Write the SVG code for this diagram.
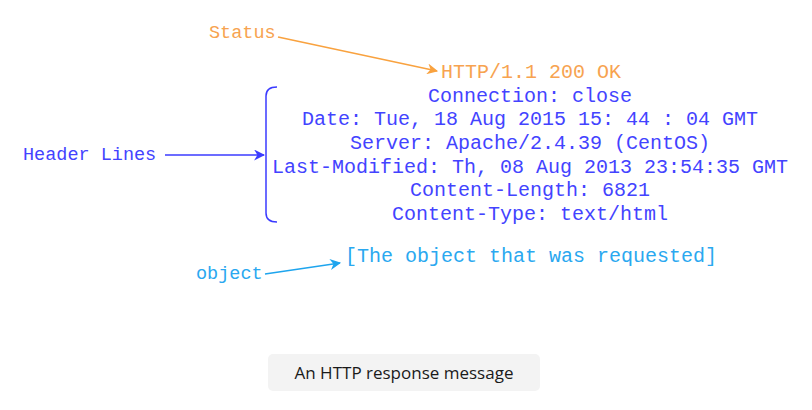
<svg xmlns="http://www.w3.org/2000/svg" width="812" height="410" viewBox="0 0 812 410">
<style>
.m{font-family:"Liberation Mono","Courier New",monospace}
.c{font-size:20px;text-anchor:middle}
.l{font-size:18.5px}
.o{fill:#f7a350}
.b{fill:#4343ff}
.s{fill:#2aa8f0}
</style>
<defs>
<marker id="ao" viewBox="0 0 10 10" refX="9" refY="5" markerWidth="11" markerHeight="11" markerUnits="userSpaceOnUse" orient="auto"><path d="M0,0L10,5L0,10L3,5z" fill="#f9a23f"/></marker>
<marker id="ab" viewBox="0 0 10 10" refX="9" refY="5" markerWidth="11" markerHeight="11" markerUnits="userSpaceOnUse" orient="auto"><path d="M0,0L10,5L0,10L3,5z" fill="#3b3bff"/></marker>
<marker id="as" viewBox="0 0 10 10" refX="9" refY="5" markerWidth="11" markerHeight="11" markerUnits="userSpaceOnUse" orient="auto"><path d="M0,0L10,5L0,10L3,5z" fill="#1ea5ee"/></marker>
</defs>
<rect width="812" height="410" fill="#fff"/>
<g id="connectors" fill="none" stroke-width="1.5">
<path d="M278,37 L437,71" stroke="#f9a23f" marker-end="url(#ao)"/>
<path d="M165,155 L264,155" stroke="#3b3bff" marker-end="url(#ab)"/>
<path d="M265,274 L340,263" stroke="#1ea5ee" marker-end="url(#as)"/>
</g>
<g id="status-label"><text class="m l o" x="209" y="38">Status</text></g>
<g id="status-line"><text class="m c o" x="531" y="78">HTTP/1.1 200 OK</text></g>
<g id="header-label"><text class="m l b" x="23" y="160">Header Lines</text></g>
<g id="headers">
<path d="M277,87 Q266,87 266,96 L266,213 Q266,222 277,222" fill="none" stroke="#3b3bff" stroke-width="1.5"/>
<text class="m c b" x="530" y="102">Connection: close</text>
<text class="m c b" x="530" y="125">Date: Tue, 18 Aug 2015 15: 44 : 04 GMT</text>
<text class="m c b" x="530" y="149">Server: Apache/2.4.39 (CentOS)</text>
<text class="m c b" x="530" y="173">Last-Modified: Th, 08 Aug 2013 23:54:35 GMT</text>
<text class="m c b" x="530" y="196">Content-Length: 6821</text>
<text class="m c b" x="530" y="220">Content-Type: text/html</text>
</g>
<g id="object-label"><text class="m l s" x="196" y="279">object</text></g>
<g id="object-body"><text class="m c s" x="531" y="262">[The object that was requested]</text></g>
<g id="caption">
<rect x="268" y="354" width="272" height="37" rx="5" fill="#f3f3f3"/>
<text x="404" y="379" font-family="'Open Sans',Lato,sans-serif" font-size="17" text-anchor="middle" fill="#1a1a1a">An HTTP response message</text>
</g>
</svg>
